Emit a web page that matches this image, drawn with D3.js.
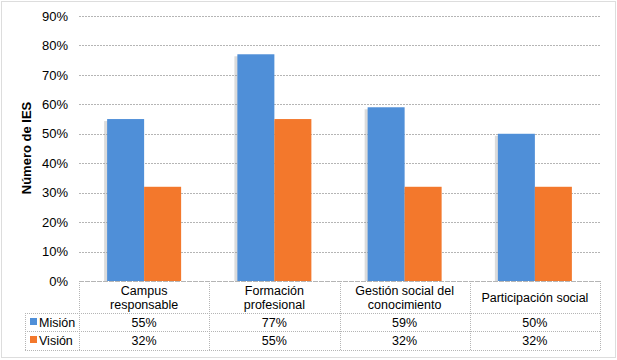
<!DOCTYPE html>
<html><head><meta charset="utf-8">
<script src="https://cdn.jsdelivr.net/npm/d3@7"></script>
<style>body{margin:0;background:#fff}svg{display:block;font-family:"Liberation Sans",Arial,sans-serif}</style>
</head><body><svg id="c" width="617" height="360"></svg>
<script>
const categories = [["Campus","responsable"],["Formación","profesional"],["Gestión social del","conocimiento"],["Participación social"]];
const seriesNames = ["Misión","Visión"];
const mision = [55,77,59,50];
const vision = [32,55,32,32];
const colors = ["#4F8FD8","#F3782C"];
const yTicks = [0,10,20,30,40,50,60,70,80,90];

(function(){
const svg = d3.select("#c");
const pLeft=79,pRight=600,pTop=16,pBottom=281;
const x = d3.scaleBand().domain(d3.range(categories.length)).range([pLeft,pRight]);
const y = d3.scaleLinear().domain([0,90]).range([pBottom,pTop]);
const bw = 37, off0 = (x.bandwidth()-2*bw)/2;

svg.append("rect").attr("x",1.5).attr("y",1.5).attr("width",614).attr("height",356)
  .attr("fill","none").attr("stroke","#bbb").attr("stroke-dasharray","1,1");

svg.append("g").selectAll("line").data(yTicks).join("line")
  .attr("x1",pLeft).attr("x2",pRight).attr("y1",d=>Math.round(y(d))+0.5).attr("y2",d=>Math.round(y(d))+0.5)
  .attr("stroke","#b5b5b5").attr("stroke-dasharray","2,1");

const yAxis = d3.axisLeft(y).tickValues(yTicks).tickFormat(d=>d+"%").tickSize(0).tickPadding(11);
const ga = svg.append("g").attr("transform",`translate(${pLeft},0)`).call(yAxis);
ga.select(".domain").remove();
ga.selectAll("text").attr("font-size",13).attr("fill","#000").attr("font-family","Liberation Sans, Arial");

svg.append("text").attr("transform","translate(31,148) rotate(-90)").attr("text-anchor","middle")
  .attr("font-size",13).attr("font-weight","bold").text("Número de IES");

const data = [mision,vision];
data.forEach((vals,si)=>{
  svg.append("g").selectAll("rect").data(vals).join("rect")
    .attr("x",(d,i)=>x(i)+off0+si*bw-3).attr("y",d=>y(d)+2).attr("width",bw).attr("height",d=>pBottom-y(d)-2)
    .attr("fill","#999").attr("opacity",0.35);
});
data.forEach((vals,si)=>{
  svg.append("g").selectAll("rect").data(vals).join("rect")
    .attr("x",(d,i)=>x(i)+off0+si*bw).attr("y",d=>y(d)).attr("width",bw).attr("height",d=>pBottom-y(d))
    .attr("fill",colors[si]);
});

const tg = svg.append("g").attr("stroke","#b5b5b5").attr("stroke-dasharray","1,1").attr("fill","none");
tg.append("line").attr("x1",pLeft).attr("x2",pRight).attr("y1",281.5).attr("y2",281.5);
[313,331,350].forEach(v=>tg.append("line").attr("x1",25).attr("x2",pRight).attr("y1",v+0.5).attr("y2",v+0.5));
d3.range(categories.length+1).forEach(i=>{
  const xv = i<categories.length? x(i):pRight;
  tg.append("line").attr("x1",Math.round(xv)+0.5).attr("x2",Math.round(xv)+0.5).attr("y1",281).attr("y2",350);
});
tg.append("line").attr("x1",25.5).attr("x2",25.5).attr("y1",313).attr("y2",350);

categories.forEach((lines,i)=>{
  const cx = x(i)+x.bandwidth()/2;
  const t = svg.append("text").attr("text-anchor","middle").attr("font-size",12.5).attr("fill","#000");
  if(lines.length===1){ t.append("tspan").attr("x",cx).attr("y",302).text(lines[0]); }
  else { lines.forEach((l,k)=>t.append("tspan").attr("x",cx).attr("y",295+k*14).text(l)); }
});
data.forEach((vals,si)=>{
  const yy = [327,345][si];
  vals.forEach((v,i)=>{
    svg.append("text").attr("x",x(i)+x.bandwidth()/2).attr("y",yy).attr("text-anchor","middle")
      .attr("font-size",12.5).text(v+"%");
  });
  svg.append("rect").attr("x",30).attr("y",yy-9).attr("width",7).attr("height",7).attr("fill",colors[si]);
  svg.append("text").attr("x",39).attr("y",yy).attr("font-size",12.5).text(seriesNames[si]);
});
})();
</script></body></html>
